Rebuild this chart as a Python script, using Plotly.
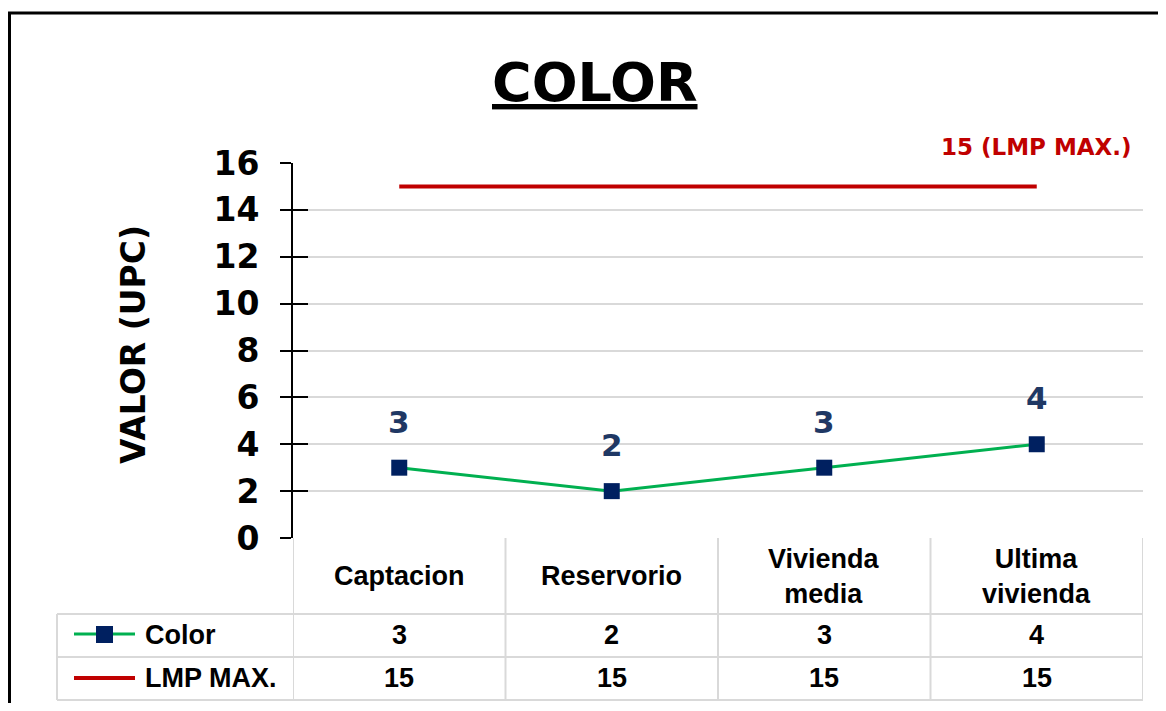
import plotly.graph_objects as go

# datos del grafico
categorias = ['Captacion', 'Reservorio', 'Vivienda media', 'Ultima vivienda']
etiquetas_tabla = ['Captacion', 'Reservorio', 'Vivienda<br>media', 'Ultima<br>vivienda']
valores_color = [3, 2, 3, 4]
valores_lmp = [15, 15, 15, 15]
ticks_y = [0, 2, 4, 6, 8, 10, 12, 14, 16]

# colores
VERDE = '#00B050'
AZUL = '#002060'
AZUL_TXT = '#1F3864'
ROJO = '#C00000'
GRIS = '#D9D9D9'

FUENTE_TITULO = 'DejaVu Sans'
FUENTE_TABLA = 'Liberation Sans, Arial'

# area del grafico en pixeles de la ventana (el body del html tiene 8px de margen)
OFF = 8
W, H = 1166 - 2 * OFF, 711 - 2 * OFF
L, R, T, B = 293, 1143, 163, 538


def px(x):
    """pixel horizontal -> coordenada paper"""
    return (x - L) / (R - L)


def py(y):
    """pixel vertical -> coordenada paper"""
    return (B - y) / (B - T)


def nota(x, y, texto, fuente, xref='paper', yref='paper', **kw):
    d = dict(x=x, y=y, xref=xref, yref=yref, text=texto, showarrow=False,
             xanchor='center', yanchor='middle', font=fuente)
    d.update(kw)
    return d


fig = go.Figure()

fig.add_trace(go.Scatter(x=categorias, y=valores_color, mode='lines+markers',
                         name='Color',
                         line=dict(color=VERDE, width=3),
                         marker=dict(symbol='square', size=16, color=AZUL)))

fig.add_trace(go.Scatter(x=categorias, y=valores_lmp, mode='lines',
                         name='LMP MAX.', yaxis='y2',
                         line=dict(color=ROJO, width=4)))

anotaciones = []

# etiquetas de datos
for cat, val in zip(categorias, valores_color):
    anotaciones.append(nota(cat, val, str(val),
                            dict(family=FUENTE_TITULO, size=31, color=AZUL_TXT, weight='bold'),
                            xref='x', yref='y', yshift=46))

anotaciones.append(nota(categorias[-1], valores_lmp[-1], f'{valores_lmp[-1]} (LMP MAX.)',
                        dict(family=FUENTE_TITULO, size=23, color=ROJO, weight='bold'),
                        xref='x', yref='y', yshift=39))

# titulo y eje y
anotaciones.append(nota(px(595), py(82), '<u>COLOR</u>',
                        dict(family=FUENTE_TITULO, size=54, color='black', weight='bold')))
anotaciones.append(nota(px(133), py(345), 'VALOR (UPC)',
                        dict(family=FUENTE_TITULO, size=33, color='black', weight='bold'),
                        textangle=-90))

# tabla de datos
fuente_tabla = dict(family=FUENTE_TABLA, size=27, color='black', weight='bold')
for i, cat in enumerate(categorias):
    anotaciones.append(nota(cat, py(576), etiquetas_tabla[i], fuente_tabla, xref='x'))
    anotaciones.append(nota(cat, py(635), str(valores_color[i]), fuente_tabla, xref='x'))
    anotaciones.append(nota(cat, py(678), str(valores_lmp[i]), fuente_tabla, xref='x'))

anotaciones.append(nota(px(143), py(635), 'Color', fuente_tabla, xanchor='left'))
anotaciones.append(nota(px(143), py(678), 'LMP MAX.', fuente_tabla, xanchor='left'))

formas = []
linea_gris = dict(color=GRIS, width=2)
for yy in [614, 657, 700]:
    formas.append(dict(type='line', xref='paper', yref='paper',
                       x0=px(57), x1=1, y0=py(yy), y1=py(yy), line=linea_gris))
formas.append(dict(type='line', xref='paper', yref='paper',
                   x0=px(57), x1=px(57), y0=py(614), y1=py(700), line=linea_gris))
for xx in [-0.5, 0.5, 1.5, 2.5, 3.5]:
    formas.append(dict(type='line', xref='x', yref='paper',
                       x0=xx, x1=xx, y0=0, y1=py(700), line=linea_gris))

# simbolos de leyenda en la tabla
formas.append(dict(type='line', xref='paper', yref='paper',
                   x0=px(74), x1=px(135), y0=py(634), y1=py(634),
                   line=dict(color=VERDE, width=3)))
formas.append(dict(type='rect', xref='paper', yref='paper',
                   x0=px(96), x1=px(113), y0=py(626), y1=py(643),
                   fillcolor=AZUL, line=dict(width=0)))
formas.append(dict(type='line', xref='paper', yref='paper',
                   x0=px(74), x1=px(135), y0=py(678), y1=py(678),
                   line=dict(color=ROJO, width=4)))

# marco exterior
formas.append(dict(type='rect', xref='paper', yref='paper',
                   x0=px(9.5), x1=px(1190), y0=py(13), y1=py(740),
                   line=dict(color='black', width=3)))

fig.update_layout(
    width=W, height=H,
    margin=dict(l=L - OFF, r=W - (R - OFF), t=T - OFF, b=H - (B - OFF), autoexpand=False),
    paper_bgcolor='white', plot_bgcolor='white',
    showlegend=False,
    xaxis=dict(type='category', range=[-0.5, 3.5], showticklabels=False,
               showgrid=False, zeroline=False, showline=False, ticks=''),
    yaxis=dict(range=[0, 16], tickvals=ticks_y, showline=True, linecolor='black',
               linewidth=2, ticks='outside', ticklen=11, tickwidth=2, tickcolor='black',
               showgrid=True, gridcolor=GRIS, gridwidth=2, zeroline=False,
               ticklabelstandoff=14,
               tickfont=dict(family=FUENTE_TITULO, size=33, color='black', weight='bold')),
    yaxis2=dict(range=[0, 16], tickvals=ticks_y[1:], overlaying='y', side='left', anchor='x',
                ticks='inside', ticklen=15, tickwidth=2, tickcolor='black',
                showticklabels=False, showgrid=False, zeroline=False, showline=False),
    annotations=anotaciones,
    shapes=formas,
)

fig.write_html('out.html')
